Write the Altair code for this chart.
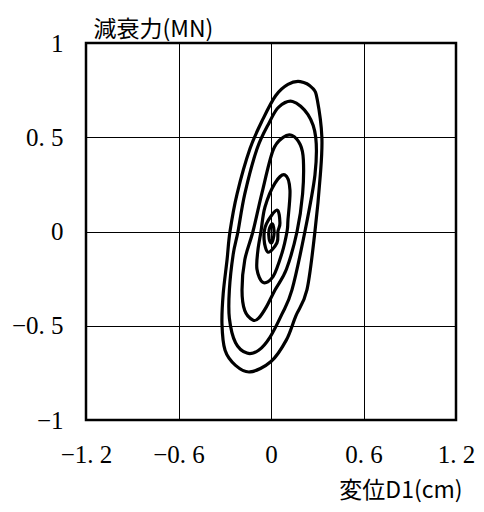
import altair as alt
import pandas as pd

# Tick values
x_ticks = [-1.2, -0.6, 0, 0.6, 1.2]
y_ticks = [-1, -0.5, 0, 0.5, 1]

# Hysteresis loops (displacement cm, damping force MN), traced clockwise from top
loop1_x = [0.19, 0.27, 0.30, 0.33, 0.32, 0.285, 0.233, 0.16, 0.10, 0.0, -0.136, -0.23, -0.298, -0.318, -0.31, -0.285, -0.266, -0.22, -0.136, -0.05, 0.03, 0.11]
loop1_y = [0.795, 0.76, 0.70, 0.50, 0.30, 0.0, -0.31, -0.45, -0.575, -0.69, -0.745, -0.71, -0.63, -0.49, -0.33, -0.15, 0.0, 0.2, 0.44, 0.6, 0.72, 0.78]

loop2_x = [0.14, 0.24, 0.29, 0.285, 0.22, 0.136, 0.07, -0.006, -0.08, -0.156, -0.23, -0.27, -0.27, -0.245, -0.214, -0.17, -0.09, -0.01, 0.05]
loop2_y = [0.69, 0.62, 0.50, 0.30, 0.0, -0.31, -0.44, -0.56, -0.63, -0.645, -0.59, -0.46, -0.31, -0.12, 0.0, 0.2, 0.44, 0.58, 0.66]

loop3_x = [0.136, 0.19, 0.21, 0.205, 0.169, 0.10, 0.026, -0.03, -0.08, -0.117, -0.17, -0.188, -0.17, -0.117, -0.06, 0.013, 0.08]
loop3_y = [0.51, 0.46, 0.38, 0.2, 0.0, -0.2, -0.31, -0.40, -0.46, -0.47, -0.42, -0.31, -0.15, 0.0, 0.2, 0.43, 0.50]

loop4_x = [0.091, 0.123, 0.11, 0.104, 0.071, 0.013, -0.052, -0.091, -0.085, -0.065, -0.039, 0.026]
loop4_y = [0.30, 0.22, 0.06, 0.0, -0.115, -0.24, -0.27, -0.2, -0.1, 0.0, 0.13, 0.257]

loop5_x = [0.039, 0.058, 0.045, 0.039, -0.019, -0.045, -0.03]
loop5_y = [0.114, 0.045, 0.0, -0.06, -0.11, -0.04, 0.04]

loop6_x = [0.01, 0.02, 0.005, -0.012, -0.012]
loop6_y = [0.04, -0.01, -0.06, -0.04, 0.01]

loops = [(loop1_x, loop1_y), (loop2_x, loop2_y), (loop3_x, loop3_y),
         (loop4_x, loop4_y), (loop5_x, loop5_y), (loop6_x, loop6_y)]

rows = []
for k, (xs, ys) in enumerate(loops):
    for i, (xv, yv) in enumerate(zip(xs, ys)):
        rows.append({"loop": k, "i": i, "x": xv, "y": yv})
df = pd.DataFrame(rows)

label_font = "Liberation Serif"
title_font = "Noto Sans CJK JP"
label_expr = "replace(format(datum.value, '~g'), '.', '. ')"

chart = alt.Chart(df).mark_line(
    color="black", strokeWidth=3.2, interpolate="cardinal-closed"
).encode(
    x=alt.X("x:Q",
            scale=alt.Scale(domain=[-1.2, 1.2], nice=False, zero=False),
            axis=alt.Axis(values=x_ticks, title="変位D1(cm)",
                          labelExpr=label_expr,
                          labelPadding=22, labelFlush=False,
                          titleX=376, titleY=77, titleAlign="right",
                          titleBaseline="alphabetic", titleAngle=0)),
    y=alt.Y("y:Q",
            scale=alt.Scale(domain=[-1, 1], nice=False, zero=False),
            axis=alt.Axis(values=y_ticks, title="減衰力(MN)",
                          labelExpr=label_expr,
                          labelPadding=23, labelFlush=False,
                          titleX=7, titleY=-7, titleAlign="left",
                          titleBaseline="alphabetic", titleAngle=0)),
    detail="loop:N",
    order="i:Q",
).properties(
    width=370, height=377,
    padding={"left": 86, "top": 43, "right": 28, "bottom": 92},
    autosize="none",
).configure_view(
    stroke="black", strokeWidth=2.5
).configure_axis(
    domain=False, ticks=False, tickSize=0,
    grid=True, gridColor="black", gridWidth=1, gridOpacity=1,
    labelFont=label_font, labelFontSize=25, labelColor="black",
    titleFont=title_font, titleFontSize=23, titleFontWeight="normal", titleColor="black",
)

chart.save("out.html", embed_options={"renderer": "svg", "actions": False})
